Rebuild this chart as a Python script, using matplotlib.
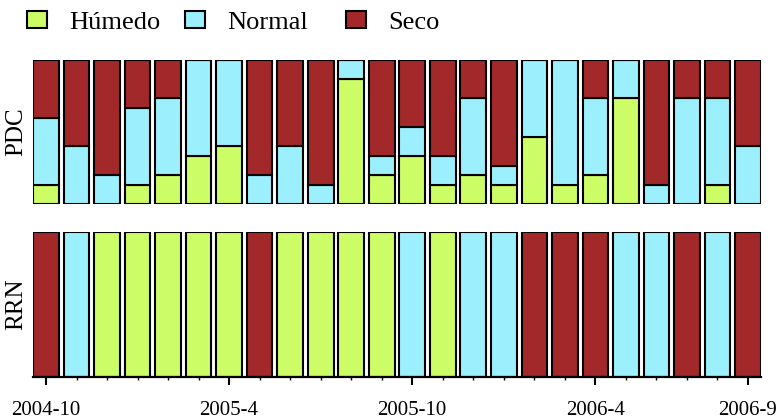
import matplotlib
matplotlib.use("Agg")
import matplotlib.pyplot as plt
from matplotlib.patches import Patch
import numpy as np

plt.rcParams['font.family'] = ['Liberation Serif', 'DejaVu Serif']

# Monthly classification, Oct 2004 - Sep 2006
months = ['2004-10', '2004-11', '2004-12', '2005-1', '2005-2', '2005-3',
          '2005-4', '2005-5', '2005-6', '2005-7', '2005-8', '2005-9',
          '2005-10', '2005-11', '2005-12', '2006-1', '2006-2', '2006-3',
          '2006-4', '2006-5', '2006-6', '2006-7', '2006-8', '2006-9']
major_labels = ['2004-10', '2005-4', '2005-10', '2006-4', '2006-9']

# PDC: number of stations (out of 15) in each class per month
n_stations = 15
pdc_humedo = [2, 0, 0, 2, 3, 5, 6, 0, 0, 0, 13, 3, 5, 2, 3, 2, 7, 2, 3, 11, 0, 0, 2, 0]
pdc_normal = [7, 6, 3, 8, 8, 10, 9, 3, 6, 2, 2, 2, 3, 3, 8, 2, 8, 13, 8, 4, 2, 11, 9, 6]
pdc_seco = [6, 9, 12, 5, 4, 0, 0, 12, 9, 13, 0, 10, 7, 10, 4, 11, 0, 0, 4, 0, 13, 4, 4, 9]

# RRN: single class per month
rrn = ['Seco', 'Normal', 'Húmedo', 'Húmedo', 'Húmedo', 'Húmedo', 'Húmedo', 'Seco',
       'Húmedo', 'Húmedo', 'Húmedo', 'Húmedo', 'Normal', 'Húmedo', 'Normal', 'Normal',
       'Seco', 'Seco', 'Seco', 'Normal', 'Normal', 'Seco', 'Normal', 'Seco']

classes = ['Húmedo', 'Normal', 'Seco']
colors = {'Húmedo': '#ccfc66', 'Normal': '#9cf0fd', 'Seco': '#a3282a'}

x = np.arange(len(months))
width = 0.84
lw = 1.5

fig = plt.figure(figsize=(7.81, 4.2), dpi=100)
ax1 = fig.add_axes([0.0421, 0.514, 0.9324, 0.343])
ax2 = fig.add_axes([0.0421, 0.1024, 0.9324, 0.345])

# Stacked proportions for PDC
h = np.array(pdc_humedo) / n_stations
n = np.array(pdc_normal) / n_stations
s = np.array(pdc_seco) / n_stations
bottom = np.zeros(len(x))
for vals, cls in zip([h, n, s], classes):
    ax1.bar(x, vals, width, bottom=bottom, color=colors[cls],
            edgecolor='black', linewidth=lw)
    bottom = bottom + vals

# Full-height bars for RRN
ax2.bar(x, np.ones(len(x)), width, color=[colors[c] for c in rrn],
        edgecolor='black', linewidth=lw)

for ax in (ax1, ax2):
    ax.set_xlim(-0.43, len(x) - 1 + 0.43)
    ax.set_ylim(0, 1)
    ax.set_yticks([])
    for side in ['top', 'right', 'left']:
        ax.spines[side].set_visible(False)

ax1.spines['bottom'].set_visible(False)
ax1.set_xticks([])
ax1.set_ylabel('PDC', fontsize=18, labelpad=4)
ax2.set_ylabel('RRN', fontsize=18, labelpad=4)

ax2.spines['bottom'].set_linewidth(1.6)
ax2.set_xticks([months.index(m) for m in major_labels])
ax2.set_xticklabels(major_labels, fontsize=15)
ax2.set_xticks(x, minor=True)
ax2.tick_params(axis='x', which='major', direction='out', length=5.5, width=1.5, pad=12)
ax2.tick_params(axis='x', which='minor', direction='out', length=2.5, width=1.0)

# One legend entry per class, spaced along the top edge
legend_x = [0.035, 0.237, 0.443]
for cls, lx in zip(classes, legend_x):
    handle = Patch(facecolor=colors[cls], edgecolor='black', linewidth=1.5, label=cls)
    fig.legend(handles=[handle], loc='upper left', bbox_to_anchor=(lx, 0.975),
               frameon=False, fontsize=19, handlelength=0.75,
               handleheight=0.65, handletextpad=0.85,
               borderaxespad=0, borderpad=0)

fig.savefig('out.png', dpi=100)
